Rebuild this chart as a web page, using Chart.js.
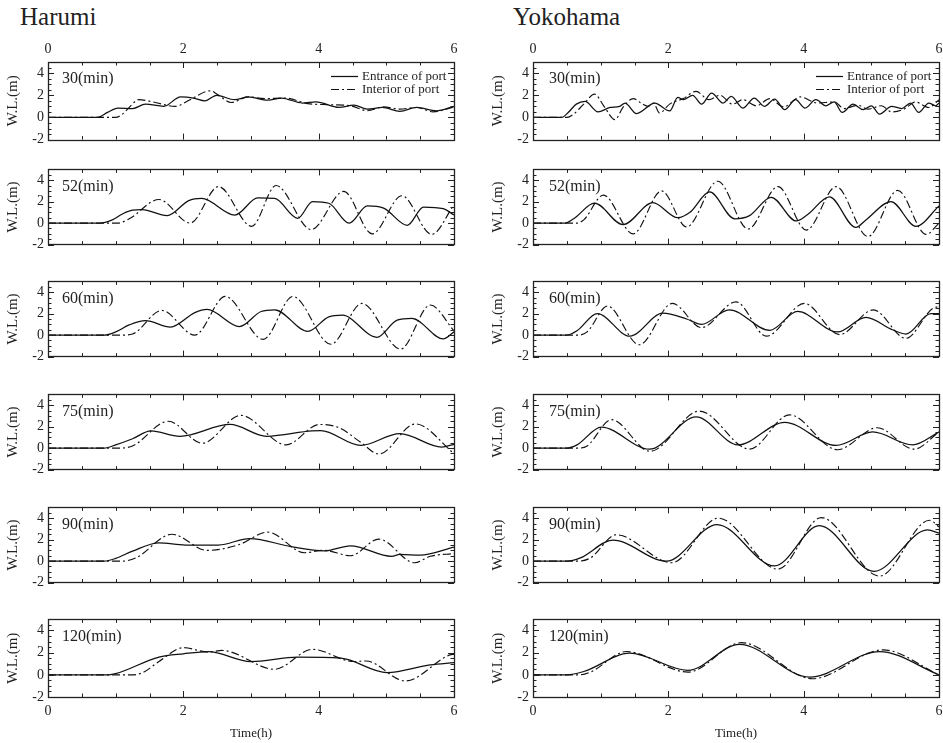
<!DOCTYPE html>
<html><head><meta charset="utf-8">
<script src="https://cdn.jsdelivr.net/npm/chart.js@4.4.1/dist/chart.umd.min.js"></script>
<style>
html,body{margin:0;padding:0;background:#fff;width:943px;height:743px;overflow:hidden;position:relative;}
canvas{position:absolute;}
.site{position:absolute;top:4px;font-family:'Liberation Serif','Times New Roman',serif;font-size:25px;line-height:25px;color:#222;white-space:nowrap;}
</style></head><body>
<div class="site" style="left:20px">Harumi</div>
<div class="site" style="left:513px">Yokohama</div>
<script>
// ---------- data ----------
const X_TICKS = [0, 2, 4, 6];
const Y_TICKS = [-2, 0, 2, 4];
const SITES = ['Harumi', 'Yokohama'];
const PERIODS = ['30(min)', '52(min)', '60(min)', '75(min)', '90(min)', '120(min)'];
const SERIES_NAMES = ['Entrance of port', 'Interior of port'];

// [time (h), water level (m)]
const H30_ENT = [[0,0],[0.73,0],[0.88,0.45],[1.03,0.85],[1.25,0.8],[1.44,1.2],[1.71,1.0],[1.96,1.85],[2.15,1.75],[2.32,1.5],[2.49,2.0],[2.76,1.6],[2.96,1.85],[3.25,1.55],[3.45,1.75],[3.76,1.3],[3.96,1.4],[4.3,0.9],[4.52,1.1],[4.72,0.75],[4.94,0.9],[5.2,0.55],[5.45,0.9],[5.74,0.6],[6,1.0]];
const H30_INT = [[0,0],[1.0,0],[1.1,0.3],[1.2,0.9],[1.34,1.6],[1.55,1.4],[1.88,1.0],[2.1,1.6],[2.4,2.4],[2.5,2.1],[2.71,1.35],[2.96,1.85],[3.2,1.7],[3.5,1.75],[3.84,1.25],[4.13,1.15],[4.47,1.05],[4.72,0.6],[4.96,0.95],[5.2,0.75],[5.45,0.9],[5.69,0.5],[6,0.95]];
const Y30_ENT = [[0,0],[0.42,0],[0.52,0.45],[0.64,1.2],[0.77,1.45],[0.96,0.5],[1.14,0.9],[1.28,1.0],[1.36,1.3],[1.53,0.35],[1.8,1.3],[2.02,0.58],[2.14,1.8],[2.22,1.6],[2.36,2.0],[2.49,1.2],[2.64,2.2],[2.81,1.3],[2.93,1.9],[3.1,0.85],[3.27,1.75],[3.42,1.0],[3.57,1.65],[3.72,0.7],[3.88,1.6],[4.02,0.85],[4.18,1.6],[4.33,1.05],[4.45,1.4],[4.57,0.45],[4.73,1.2],[4.88,0.7],[5.0,1.05],[5.12,0.3],[5.3,1.0],[5.45,0.8],[5.58,1.3],[5.7,0.45],[5.85,1.3],[5.95,1.05],[6,1.3]];
const Y30_INT = [[0,0],[0.5,0],[0.6,0.3],[0.75,1.2],[0.91,2.1],[1.05,1.0],[1.21,-0.2],[1.33,0.9],[1.48,1.7],[1.62,1.2],[1.7,1.0],[1.78,1.3],[1.87,0.4],[2.02,1.2],[2.22,1.7],[2.41,2.35],[2.6,1.6],[2.76,2.0],[2.95,1.2],[3.1,1.6],[3.3,1.05],[3.5,1.7],[3.7,0.95],[3.95,1.85],[4.2,1.3],[4.45,1.4],[4.6,0.8],[4.8,1.1],[4.95,0.75],[5.15,1.05],[5.3,0.5],[5.5,0.8],[5.65,1.4],[5.85,0.9],[6,1.6]];

const H52_ENT = [[0,0],[0.76,0],[0.95,0.3],[1.1,0.85],[1.25,1.2],[1.39,1.25],[1.76,0.7],[2.08,2.1],[2.27,2.3],[2.76,0.75],[3.1,2.35],[3.35,2.3],[3.69,0.45],[3.91,2.0],[4.15,1.85],[4.45,0.0],[4.72,1.6],[4.96,1.4],[5.31,-0.2],[5.55,1.5],[5.84,1.35],[6,0.75]];
const H52_INT = [[0,0],[1.03,0],[1.2,0.4],[1.64,2.2],[2.1,0.0],[2.52,3.4],[3.01,-0.3],[3.37,3.5],[3.89,-0.6],[4.37,2.95],[4.79,-1.0],[5.23,2.55],[5.67,-1.05],[6,1.7]];
const Y52_ENT = [[0,0],[0.47,0],[0.6,0.4],[0.91,1.85],[1.33,-0.15],[1.77,1.9],[2.14,0.5],[2.32,1.0],[2.61,2.9],[2.98,0.4],[3.2,0.7],[3.52,2.4],[3.89,0.2],[4.06,0.8],[4.38,2.45],[4.77,-0.4],[4.92,0.3],[5.29,2.0],[5.66,-0.3],[6,1.6]];
const Y52_INT = [[0,0],[0.64,0],[0.75,0.3],[1.04,2.6],[1.48,-1.0],[1.9,3.0],[2.27,-0.35],[2.73,3.9],[3.18,-0.55],[3.62,3.4],[4.04,-0.65],[4.48,3.4],[4.95,-1.25],[5.39,3.05],[5.81,-1.05],[6,0.0]];

const H60_ENT = [[0,0],[0.83,0],[1.0,0.3],[1.2,0.95],[1.44,1.35],[1.81,0.75],[2.17,2.1],[2.35,2.4],[2.83,0.8],[3.15,2.2],[3.35,2.35],[3.84,0.35],[4.15,1.7],[4.35,1.85],[4.86,-0.2],[5.16,1.4],[5.38,1.55],[5.84,-0.35],[6,0.3]];
const H60_INT = [[0,0],[1.1,0],[1.25,0.1],[1.68,2.3],[2.17,0.0],[2.62,3.6],[3.18,-0.4],[3.62,3.6],[4.18,-0.85],[4.64,2.95],[5.21,-1.3],[5.65,2.8],[6,0.4]];
const Y60_ENT = [[0,0],[0.5,0],[0.65,0.4],[0.95,2.0],[1.43,-0.1],[1.92,2.05],[2.27,1.5],[2.49,1.0],[2.9,2.35],[3.5,0.45],[3.91,2.2],[4.5,0.3],[4.92,1.65],[5.31,0.5],[5.51,0.1],[5.88,2.0],[6,2.0]];
const Y60_INT = [[0,0],[0.67,0],[0.8,0.3],[1.1,2.7],[1.57,-0.9],[2.06,2.95],[2.49,0.7],[3.0,3.1],[3.45,-0.1],[4.01,2.95],[4.53,0.05],[5.03,2.35],[5.51,-0.3],[5.96,2.6],[6,2.6]];

const H75_ENT = [[0,0],[0.83,0],[1.0,0.3],[1.25,0.87],[1.52,1.6],[1.95,1.1],[2.69,2.2],[3.23,1.1],[3.9,1.6],[4.03,1.62],[4.62,0.25],[5.2,1.35],[5.82,0.1],[6,0.35]];
const H75_INT = [[0,0],[1.05,0],[1.25,0.2],[1.78,2.5],[2.28,0.45],[2.85,3.05],[3.52,0.3],[4.01,2.2],[4.3,1.9],[4.62,0.55],[4.89,-0.55],[5.43,2.25],[6,-0.5]];
const Y75_ENT = [[0,0],[0.5,0],[0.65,0.3],[1.01,1.95],[1.72,-0.1],[2.41,2.9],[3.03,0.3],[3.72,2.4],[4.48,0.25],[5.02,1.5],[5.61,0.3],[6,1.5]];
const Y75_INT = [[0,0],[0.67,0],[0.8,0.2],[1.16,2.65],[1.73,-0.3],[2.46,3.45],[3.2,-0.1],[3.79,3.1],[4.5,-0.15],[5.09,1.9],[5.63,-0.1],[6,1.5]];

const H90_ENT = [[0,0],[0.83,0],[1.0,0.25],[1.25,0.93],[1.64,1.7],[2.03,1.5],[2.52,1.5],[2.98,2.1],[3.59,1.35],[4.08,0.95],[4.47,1.42],[5.08,0.45],[5.2,0.62],[5.5,0.55],[6,1.3]];
const H90_INT = [[0,0],[1.1,0],[1.3,0.3],[1.83,2.5],[2.35,1.0],[2.81,1.5],[3.25,2.7],[3.79,0.78],[4.08,1.0],[4.47,0.5],[4.89,2.05],[5.42,-0.15],[5.65,0.45],[6,0.7]];
const Y90_ENT = [[0,0],[0.5,0],[0.7,0.3],[1.18,1.95],[1.97,0.0],[2.72,3.4],[3.57,-0.45],[4.23,3.3],[5.04,-0.95],[5.83,2.9],[6,2.6]];
const Y90_INT = [[0,0],[0.67,0],[0.85,0.3],[1.23,2.45],[2.05,-0.15],[2.74,4.0],[3.62,-0.75],[4.26,4.05],[5.12,-1.4],[5.86,3.8],[6,3.2]];

const H120_ENT = [[0,0],[0.9,0],[1.0,0.1],[1.64,1.6],[2.0,1.9],[2.37,2.1],[3.0,1.2],[3.69,1.6],[4.33,1.5],[5.01,0.2],[5.65,0.9],[6,1.1]];
const H120_INT = [[0,0],[1.25,0],[1.4,0.2],[1.64,1.2],[2.0,2.45],[2.37,2.05],[2.57,2.2],[3.35,0.5],[3.91,2.3],[4.52,1.2],[4.7,1.25],[5.28,-0.55],[5.94,1.8],[6,1.85]];
const Y120_ENT = [[0,0],[0.5,0],[0.75,0.3],[1.43,1.95],[2.29,0.4],[3.05,2.75],[4.09,-0.2],[5.12,2.1],[6,0.0]];
const Y120_INT = [[0,0],[0.69,0],[0.85,0.25],[1.38,2.1],[2.29,0.25],[3.08,2.9],[4.13,-0.35],[5.17,2.25],[6,0.0]];

const PANELS = [
  [[H30_ENT, H30_INT], [Y30_ENT, Y30_INT]],
  [[H52_ENT, H52_INT], [Y52_ENT, Y52_INT]],
  [[H60_ENT, H60_INT], [Y60_ENT, Y60_INT]],
  [[H75_ENT, H75_INT], [Y75_ENT, Y75_INT]],
  [[H90_ENT, H90_INT], [Y90_ENT, Y90_INT]],
  [[H120_ENT, H120_INT], [Y120_ENT, Y120_INT]]
];

// ---------- layout & style ----------
const FONT = "'Liberation Serif','Times New Roman',serif";
const INK = '#222';
const BOX_LEFT = [48, 533], BOX_W = 406, BOX_H = 80;
const BOX_TOP = [62, 167, 279, 392, 505, 617];
const AXIS_W = 48, PAD_R = 15;

Chart.defaults.font.family = FONT;
Chart.defaults.color = INK;

const framePlugin = {
  id: 'frame',
  afterDatasetsDraw(chart, args, opts) {
    const {ctx, chartArea: a, scales: {x, y}} = chart;
    ctx.save();
    ctx.strokeStyle = INK;
    ctx.lineWidth = 1;
    ctx.setLineDash([]);
    ctx.beginPath();
    // x ticks (every 0.5 h) on top & bottom, inward
    for (let i = 0; i <= 12; i++) {
      const v = i * 0.5;
      const px = Math.round(x.getPixelForValue(v)) + 0.5;
      const len = X_TICKS.includes(v) ? 6 : 3.5;
      ctx.moveTo(px, a.top); ctx.lineTo(px, a.top + len);
      ctx.moveTo(px, a.bottom); ctx.lineTo(px, a.bottom - len);
    }
    // y ticks (every 0.5 m) on left & right, inward
    for (let i = 0; i <= 14; i++) {
      const v = -2 + i * 0.5;
      const py = Math.round(y.getPixelForValue(v)) + 0.5;
      const len = Y_TICKS.includes(v) ? 6 : 3.5;
      ctx.moveTo(a.left, py); ctx.lineTo(a.left + len, py);
      ctx.moveTo(a.right, py); ctx.lineTo(a.right - len, py);
    }
    ctx.stroke();
    ctx.lineWidth = 1.3;
    ctx.strokeRect(Math.round(a.left) + 0.5, Math.round(a.top) + 0.5, Math.round(a.right - a.left), Math.round(a.bottom - a.top));
    // panel label
    ctx.fillStyle = INK;
    ctx.font = '16px ' + FONT;
    ctx.textAlign = 'left';
    ctx.textBaseline = 'middle';
    ctx.fillText(opts.label, a.left + opts.labelDx, a.top + 17);
    // legend
    if (opts.legend) {
      chart.data.datasets.forEach((ds, i) => {
        const yy = Math.round(a.top + 14 + i * 13) + 0.5;
        ctx.save();
        ctx.setLineDash(ds.borderDash || []);
        ctx.lineWidth = ds.borderWidth;
        ctx.strokeStyle = ds.borderColor;
        ctx.beginPath();
        ctx.moveTo(a.right - 123, yy); ctx.lineTo(a.right - 96, yy);
        ctx.stroke();
        ctx.restore();
        ctx.font = '13px ' + FONT;
        ctx.fillText(ds.label, a.right - 92, yy);
      });
    }
    ctx.restore();
  }
};

const toXY = arr => arr.map(p => ({x: p[0], y: p[1]}));

for (let row = 0; row < 6; row++) {
  for (let col = 0; col < 2; col++) {
    const first = row === 0, last = row === 5;
    const padTop = first ? 5 : 10;
    const topAxisH = first ? 30 : 0;
    const bottomAxisH = last ? 44 : 0;
    const padBottom = last ? 1 : 10;
    const cw = AXIS_W + BOX_W + PAD_R;
    const ch = padTop + topAxisH + BOX_H + bottomAxisH + padBottom;
    const canvas = document.createElement('canvas');
    canvas.width = cw; canvas.height = ch;
    canvas.style.width = cw + 'px'; canvas.style.height = ch + 'px';
    canvas.style.left = (BOX_LEFT[col] - AXIS_W) + 'px';
    canvas.style.top = (BOX_TOP[row] - padTop - topAxisH) + 'px';
    document.body.appendChild(canvas);
    const [ent, intr] = PANELS[row][col];
    new Chart(canvas, {
      type: 'line',
      data: {
        datasets: [
          {label: SERIES_NAMES[0], data: toXY(ent), borderColor: '#111', borderWidth: 1.25, borderDash: [],
           pointRadius: 0, tension: 0.4, cubicInterpolationMode: 'monotone', fill: false},
          {label: SERIES_NAMES[1], data: toXY(intr), borderColor: '#111', borderWidth: 1.15, borderDash: [8, 3, 2, 3],
           pointRadius: 0, tension: 0.4, cubicInterpolationMode: 'monotone', fill: false}
        ]
      },
      options: {
        responsive: false, animation: false, devicePixelRatio: 1, events: [],
        layout: {padding: {left: 0, right: PAD_R, top: padTop, bottom: padBottom}},
        scales: {
          x: {
            type: 'linear', min: 0, max: 6, position: first ? 'top' : 'bottom', display: first || last,
            afterBuildTicks: s => { s.ticks = X_TICKS.map(v => ({value: v})); },
            afterFit: s => { s.height = first ? topAxisH : bottomAxisH; },
            grid: {display: false, drawTicks: false}, border: {display: false},
            ticks: {padding: first ? 4 : 6, font: {size: 14}, color: INK, maxRotation: 0, autoSkip: false},
            title: {display: last, text: 'Time(h)', font: {size: 13}, color: INK, padding: {top: 0, bottom: 0}}
          },
          y: {
            type: 'linear', min: -2, max: 5,
            afterBuildTicks: s => { s.ticks = Y_TICKS.map(v => ({value: v})); },
            afterFit: s => { s.width = AXIS_W; },
            grid: {display: false, drawTicks: false}, border: {display: false},
            ticks: {padding: 4, font: {size: 14}, color: INK},
            title: {display: true, text: 'W.L.(m)', font: {size: 15}, color: INK, padding: {top: 4, bottom: 0}}
          }
        },
        plugins: {
          legend: {display: false}, tooltip: {enabled: false},
          frame: {label: PERIODS[row], legend: first, labelDx: col ? 16 : 14}
        }
      },
      plugins: [framePlugin]
    });
  }
}
</script></body></html>
